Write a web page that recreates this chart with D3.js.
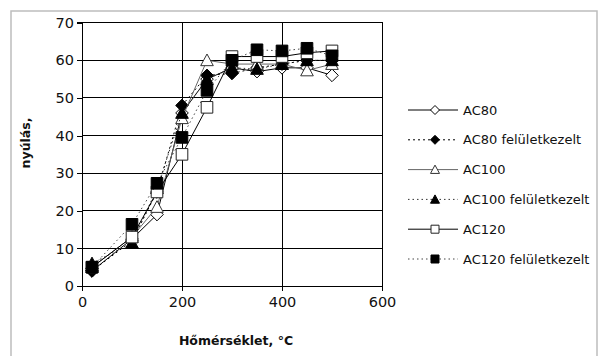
<!DOCTYPE html>
<html><head><meta charset="utf-8">
<script src="https://cdn.jsdelivr.net/npm/d3@7"></script>
<style>body{margin:0;background:#fff}svg{display:block}</style>
</head><body>
<svg id="c" width="603" height="356"></svg>
<script>
const temps = [20, 100, 150, 200, 250, 300, 350, 400, 450, 500];
const seriesNames = ["AC80", "AC80 felületkezelt", "AC100", "AC100 felületkezelt", "AC120", "AC120 felületkezelt"];
const ac80   = [4, 12.5, 19, 46, 55, 58, 57, 58, 58, 56];
const ac80f  = [4, 12, 25, 48, 56, 56.5, 58, 59, 60, 60];
const ac100  = [5, 13, 21, 44.6, 60, 59, 59, 59, 57.3, 59];
const ac100f = [6, 11.5, 26, 46, 55, 58, 57.7, 59, 60, 60];
const ac120  = [5, 13, 25, 35, 47.5, 61, 61, 61, 62, 62.5];
const ac120f = [5, 16.4, 27.3, 39.5, 52, 60, 62.8, 62.5, 63.2, 61.2];
const xTicks = [0, 200, 400, 600];
const yTicks = [0, 10, 20, 30, 40, 50, 60, 70];

const values = [ac80, ac80f, ac100, ac100f, ac120, ac120f];
const styles = [
  {shape:"diamond", fill:"#fff", stroke:"#000", line:"#000", dash:null},
  {shape:"diamond", fill:"#000", stroke:"#000", line:"#000", dash:"2,3"},
  {shape:"triangle", fill:"#fff", stroke:"#333", line:"#666", dash:null},
  {shape:"triangle", fill:"#000", stroke:"#000", line:"#333", dash:"1.5,3"},
  {shape:"square", fill:"#fff", stroke:"#222", line:"#000", dash:null},
  {shape:"square", fill:"#000", stroke:"#000", line:"#444", dash:"1.5,3"}
];

const svg = d3.select("#c");
const x = d3.scaleLinear().domain([0, 600]).range([82, 382]);
const y = d3.scaleLinear().domain([0, 70]).range([286, 22.7]);

// outer chart border
svg.append("rect").attr("x", 11).attr("y", 11).attr("width", 586).attr("height", 360)
  .attr("fill", "none").attr("stroke", "#bdbdbd").attr("stroke-width", 1.5);

// gridlines
svg.append("g").selectAll("line").data(yTicks.filter(d => d > 0)).join("line")
  .attr("x1", x(0)).attr("x2", x(600)).attr("y1", d => y(d)).attr("y2", d => y(d))
  .attr("stroke", "#000").attr("stroke-width", 1).attr("shape-rendering", "crispEdges");
svg.append("g").selectAll("line").data(xTicks.filter(d => d > 0)).join("line")
  .attr("x1", d => x(d)).attr("x2", d => x(d)).attr("y1", y(0)).attr("y2", y(70))
  .attr("stroke", "#000").attr("stroke-width", 1).attr("shape-rendering", "crispEdges");

// axes
const font = "'DejaVu Sans', Verdana, sans-serif";
const yAxis = d3.axisLeft(y).tickValues(yTicks).tickSize(5).tickPadding(3);
const gy = svg.append("g").attr("transform", `translate(${x(0)},0)`).call(yAxis);
const xAxis = d3.axisBottom(x).tickValues(xTicks).tickSize(5).tickPadding(6);
const gx = svg.append("g").attr("transform", `translate(0,${y(0)})`).call(xAxis);
[gx, gy].forEach(g => {
  g.select(".domain").attr("stroke", "#000").attr("shape-rendering", "crispEdges");
  g.selectAll(".tick line").attr("stroke", "#000").attr("shape-rendering", "crispEdges");
  g.selectAll("text").attr("font-family", font).attr("font-size", 14.5).attr("fill", "#111");
});
gy.select(".domain").attr("d", `M-5,${y(70)}H0V${y(0)}H-5`);

// axis titles
svg.append("text").attr("x", 236).attr("y", 345).attr("text-anchor", "middle")
  .attr("font-family", font).attr("font-weight", "bold").attr("font-size", 12.5)
  .attr("fill", "#111").text("Hőmérséklet, °C");
svg.append("text").attr("transform", "translate(30,143) rotate(-90)").attr("text-anchor", "middle")
  .attr("font-family", font).attr("font-weight", "bold").attr("font-size", 12.5)
  .attr("fill", "#111").text("nyúlás,");

// marker path
function markerPath(shape, r) {
  if (shape === "diamond") return `M0,${-r}L${r},0L0,${r}L${-r},0Z`;
  if (shape === "triangle") return `M0,${-r}L${r},${r * 0.85}L${-r},${r * 0.85}Z`;
  return `M${-r},${-r}H${r}V${r}H${-r}Z`;
}

const line = d3.line().x(d => x(d[0])).y(d => y(d[1]));

values.forEach((vals, i) => {
  const st = styles[i];
  const pts = temps.map((t, j) => [t, vals[j]]);
  const g = svg.append("g");
  g.append("path").attr("d", line(pts)).attr("fill", "none")
    .attr("stroke", st.line).attr("stroke-width", 1)
    .attr("stroke-dasharray", st.dash);
  const r = st.shape === "square" ? 5.8 : 6.3;
  g.selectAll("path.m").data(pts).join("path").attr("class", "m")
    .attr("transform", d => `translate(${x(d[0])},${y(d[1])})`)
    .attr("d", markerPath(st.shape, r))
    .attr("fill", st.fill).attr("stroke", st.stroke).attr("stroke-width", 1);
});

// plot frame (top & right)
svg.append("path").attr("d", `M${x(0)},${y(70)}H${x(600)}V${y(0)}`)
  .attr("fill", "none").attr("stroke", "#000").attr("shape-rendering", "crispEdges");

// legend
const legY = d3.scalePoint().domain(seriesNames).range([110, 259]);
const leg = svg.append("g");
seriesNames.forEach((name, i) => {
  const st = styles[i];
  const yy = legY(name);
  leg.append("line").attr("x1", 408).attr("x2", 458).attr("y1", yy).attr("y2", yy)
    .attr("stroke", st.line).attr("stroke-width", 1).attr("stroke-dasharray", st.dash);
  const r = st.shape === "square" ? 4 : 4.5;
  leg.append("path").attr("transform", `translate(435,${yy})`).attr("d", markerPath(st.shape, r))
    .attr("fill", st.fill).attr("stroke", st.stroke).attr("stroke-width", 1);
  leg.append("text").attr("x", 463).attr("y", yy).attr("dy", "0.36em")
    .attr("font-family", font).attr("font-size", 13).attr("fill", "#111").text(name);
});
</script>
</body></html>
